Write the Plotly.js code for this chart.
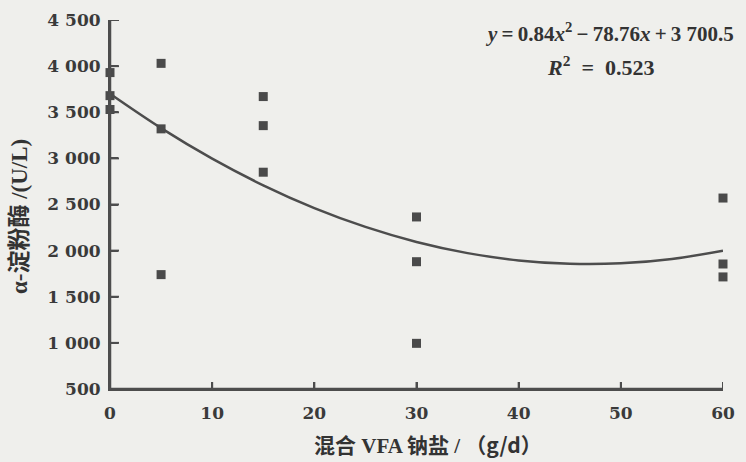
<!DOCTYPE html>
<html>
<head>
<meta charset="utf-8">
<script src="https://cdn.plot.ly/plotly-3.0.1.min.js"></script>
<style>html,body{margin:0;padding:0;background:#efefec;}#chart{width:746px;height:462px;}</style>
</head>
<body>
<div id="chart"></div>
<script>
// Observed points: VFA sodium salt dose (g/d) vs alpha-amylase (U/L)
const doseX = [0, 0, 0, 5, 5, 5, 15, 15, 15, 30, 30, 30, 60, 60, 60];
const amylaseY = [3930, 3680, 3530, 4030, 3320, 1740, 3670, 3355, 2850, 2365, 1880, 995, 2570, 1855, 1715];
// Fitted curve
const fitX = [0, 5, 10, 15, 20, 25, 30, 35, 40, 45, 50, 55, 60];
const fitY = [3700, 3328, 2997, 2708, 2461, 2257, 2094, 1973, 1894, 1857, 1862, 1910, 1999];
const xTicks = [0, 10, 20, 30, 40, 50, 60];
const yTicks = [500, 1000, 1500, 2000, 2500, 3000, 3500, 4000, 4500];
const yTickText = ['500', '1 000', '1 500', '2 000', '2 500', '3 000', '3 500', '4 000', '4 500'];

const ink = '#4d4d4d';
const tickFont = {family: 'DejaVu Serif', size: 17, color: '#3a3a3a', weight: 'bold'};
const titleFont = {family: 'Liberation Serif, Noto Sans CJK SC', size: 21, color: '#333', weight: 'bold'};
const eqFont = {family: 'Liberation Serif', size: 21, color: '#333', weight: 'bold'};

const traces = [
  {x: fitX, y: fitY, type: 'scatter', mode: 'lines',
   line: {color: ink, width: 2.5, shape: 'spline'}, hoverinfo: 'skip'},
  {x: doseX, y: amylaseY, type: 'scatter', mode: 'markers',
   marker: {symbol: 'square', size: 9, color: '#4a4a4a'}, cliponaxis: false}
];

// axis frame and inward ticks, built from the tick arrays
const shapes = [
  {type: 'line', xref: 'paper', yref: 'paper', x0: 0, x1: 1, y0: 0, y1: 0, line: {color: ink, width: 2.5}},
  {type: 'line', xref: 'paper', yref: 'paper', x0: 0, x1: 0, y0: 0, y1: 1, line: {color: ink, width: 2.5}}
].concat(
  xTicks.filter(t => t > xTicks[0]).map(t => ({type: 'line', xref: 'x', yref: 'paper', ysizemode: 'pixel', yanchor: 0,
    x0: t, x1: t, y0: 0, y1: 7, line: {color: ink, width: 2}})),
  yTicks.filter(t => t > yTicks[0]).map(t => ({type: 'line', yref: 'y', xref: 'paper', xsizemode: 'pixel', xanchor: 0,
    y0: t, y1: t, x0: 0, x1: 9, line: {color: ink, width: 2}}))
);

const layout = {
  width: 746, height: 462,
  paper_bgcolor: '#efefec', plot_bgcolor: '#efefec',
  showlegend: false,
  margin: {l: 110, r: 23, t: 20, b: 73},
  font: {family: 'DejaVu Serif', size: 17, color: '#3a3a3a'},
  xaxis: {
    range: [0, 60], tickvals: xTicks, ticktext: xTicks.map(String),
    ticks: 'inside', ticklen: 7, tickwidth: 2, tickcolor: ink,
    showline: true, linecolor: ink, linewidth: 2, showgrid: false, zeroline: false,
    tickfont: tickFont, ticklabelstandoff: 8
  },
  yaxis: {
    range: [500, 4500], tickvals: yTicks, ticktext: yTickText,
    ticks: 'inside', ticklen: 8, tickwidth: 2, tickcolor: ink,
    showline: true, linecolor: ink, linewidth: 2, showgrid: false, zeroline: false,
    tickfont: tickFont, ticklabelstandoff: 4
  },
  shapes: shapes,
  annotations: [
    {xref: 'paper', yref: 'paper', x: 0.519, y: 0, yshift: -55, xanchor: 'center', yanchor: 'middle', showarrow: false,
     text: '混合 VFA 钠盐 / <span style="font-family:Noto Sans CJK SC">（g/d）</span>', font: titleFont},
    {xref: 'paper', yref: 'paper', x: 0, xshift: -91, y: 0.466, xanchor: 'center', yanchor: 'middle', showarrow: false,
     textangle: -90, text: 'α-淀粉酶 /(U/L)', font: {family: 'Liberation Serif, Noto Sans CJK SC', size: 23, color: '#333', weight: 'bold'}},
    {xref: 'paper', yref: 'paper', x: 1.021, y: 0.967, xanchor: 'right', yanchor: 'middle', showarrow: false,
     text: '<i>y</i>\u2009=\u20090.84<i>x</i><sup>2</sup>\u2009−\u200978.76<i>x</i>\u2009+\u20093 700.5', font: eqFont},
    {xref: 'paper', yref: 'paper', x: 0.8, y: 0.875, xanchor: 'center', yanchor: 'middle', showarrow: false,
     text: '<i>R</i><sup>2</sup>\u2002=\u20020.523', font: {family: 'Liberation Serif', size: 22, color: '#333', weight: 'bold'}}
  ]
};

Plotly.newPlot('chart', traces, layout, {displayModeBar: false});
</script>
</body>
</html>
